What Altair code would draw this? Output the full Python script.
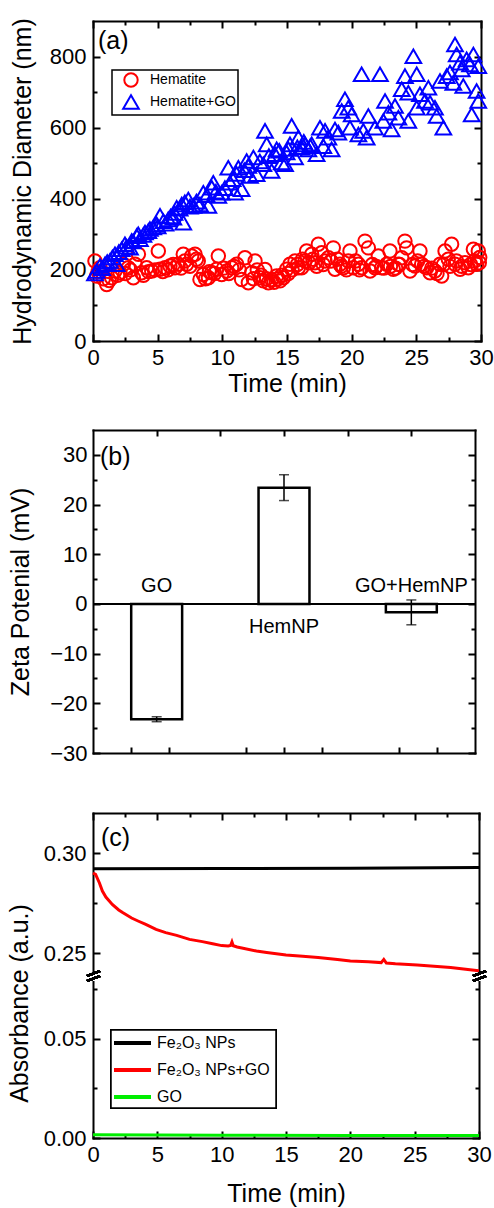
import altair as alt
import pandas as pd

FONT = "Liberation Sans"

# ---------------- Panel (a): hydrodynamic diameter ----------------
series_a = ["Hematite", "Hematite+GO"]
hem_t = [0.15, 0.28, 0.54, 1.06, 1.44, 1.70, 2.09, 2.35, 2.73, 3.12,
         3.25, 3.51, 3.76, 4.15, 4.54, 5.05, 5.18, 5.57, 5.95, 6.34,
         6.60, 6.98, 7.24, 7.63, 7.89, 8.14, 8.27, 8.53, 8.92, 9.18,
         9.56, 9.69, 9.95, 10.34, 10.72, 11.11, 11.49, 11.75, 12.01, 12.27,
         12.53, 12.91, 13.17, 13.30, 13.56, 13.81, 14.20, 14.46, 14.72, 14.97,
         15.23, 15.62, 15.88, 16.13, 16.39, 16.52, 16.91, 17.16, 17.42, 17.68,
         17.94, 18.20, 18.58, 18.71, 19.10, 19.36, 19.74, 19.87, 20.13, 20.52,
         20.77, 21.03, 21.29, 21.42, 21.80, 22.06, 22.32, 22.71, 22.96, 23.22,
         23.61, 23.87, 24.12, 24.25, 24.51, 24.90, 25.28, 25.41, 25.80, 26.06,
         26.44, 26.83, 26.96, 27.22, 27.47, 27.73, 27.99, 28.38, 28.76, 29.02,
         29.41, 29.66, 29.79, 29.87,
         0.4, 0.8, 1.25, 1.9, 2.5, 2.9, 3.9, 4.3, 4.8, 5.4,
         5.8, 6.2, 6.8, 7.1, 7.5, 8.0, 8.7, 9.0, 9.4, 10.1,
         10.5, 10.9, 11.3, 12.4, 12.7, 13.0, 13.4, 14.0, 14.3, 14.6,
         15.1, 15.4, 15.8, 16.2, 16.7, 17.0, 17.3, 17.8, 18.4, 18.9,
         19.2, 19.6, 20.3, 20.6, 21.6, 21.9, 22.5, 23.0, 23.4, 23.7,
         24.7, 25.1, 25.6, 26.2, 26.6, 27.1, 27.6, 28.1, 28.5, 29.2,
         29.5, 29.9]
hem_d = [225, 183, 206, 159, 178, 197, 192, 216, 206, 178,
         216, 244, 192, 206, 197, 253, 202, 206, 211, 206,
         216, 244, 216, 239, 244, 225, 173, 187, 178, 192,
         202, 239, 187, 197, 206, 216, 173, 234, 164, 192,
         225, 178, 169, 201, 164, 173, 183, 169, 178, 202,
         216, 225, 206, 206, 225, 253, 244, 220, 272, 248,
         225, 234, 262, 202, 216, 206, 225, 253, 206, 216,
         206, 281, 262, 197, 206, 239, 206, 216, 253, 202,
         216, 234, 281, 262, 197, 211, 253, 216, 206, 192,
         197, 216, 183, 253, 230, 272, 216, 202, 220, 206,
         258, 216, 253, 220,
         195, 175, 170, 185, 190, 200, 185, 195, 200, 195,
         200, 215, 205, 225, 210, 230, 175, 195, 190, 205,
         190, 210, 200, 175, 200, 185, 175, 165, 175, 185,
         190, 200, 215, 230, 220, 230, 210, 215, 225, 230,
         210, 200, 225, 200, 215, 210, 205, 210, 205, 215,
         215, 225, 210, 205, 190, 215, 210, 225, 210, 215,
         225, 235]
hgo_t = [0.28, 0.54, 0.93, 1.31, 1.70, 1.83, 2.22, 2.47, 2.86, 2.99,
         3.38, 3.63, 4.02, 4.28, 4.66, 4.92, 5.18, 5.44, 5.82, 6.21,
         6.47, 6.86, 6.98, 7.37, 7.76, 8.27, 8.53, 8.92, 9.18, 9.30,
         9.69, 9.95, 10.46, 10.59, 10.98, 11.24, 11.49, 11.88, 12.14, 12.40,
         12.65, 13.17, 13.30, 13.43, 13.81, 14.07, 14.20, 14.59, 14.85, 14.97,
         15.23, 15.36, 15.62, 15.88, 16.13, 16.39, 16.65, 16.91, 17.29, 17.55,
         17.81, 17.94, 18.20, 18.45, 18.71, 18.97, 19.23, 19.48, 19.74, 19.87,
         20.00, 20.52, 20.77, 20.90, 21.16, 21.29, 21.80, 22.19, 22.45, 22.58,
         22.84, 23.09, 23.35, 23.61, 23.87, 24.12, 24.38, 24.38, 24.77, 25.03,
         25.03, 25.28, 25.67, 25.93, 26.06, 26.44, 26.57, 26.83, 27.09, 27.35,
         27.60, 27.86, 27.99, 28.12, 28.38, 28.51, 28.63, 28.89, 29.15, 29.28,
         29.41, 29.66, 29.79, 29.79,
         0.15, 0.7, 1.1, 1.5, 2.0, 2.6, 3.1, 3.5, 3.9, 4.4,
         5.0, 5.6, 6.0, 6.3, 6.7, 7.1, 7.5, 8.0, 8.8, 9.5,
         10.2, 10.8, 11.1, 11.7, 12.0, 12.9, 13.6, 14.4, 15.1, 15.8,
         16.3, 16.8]
hgo_d = [197, 211, 216, 225, 244, 216, 258, 272, 262, 281,
         295, 286, 305, 309, 319, 328, 352, 337, 342, 347,
         375, 384, 333, 398, 380, 384, 417, 380, 431, 445,
         408, 417, 487, 445, 417, 487, 427, 506, 464, 516,
         469, 497, 591, 553, 478, 525, 539, 502, 497, 530,
         553, 605, 516, 572, 544, 553, 539, 553, 525, 600,
         548, 591, 572, 539, 595, 586, 647, 680, 656, 600,
         637, 581, 750, 591, 572, 633, 600, 750, 619, 675,
         642, 595, 661, 628, 708, 745, 619, 698, 801, 750,
         656, 694, 675, 712, 670, 656, 633, 731, 600, 745,
         755, 726, 834, 806, 783, 764, 717, 792, 778, 637,
         806, 703, 773, 675,
         190, 205, 222, 235, 250, 265, 280, 300, 298, 315,
         322, 330, 350, 360, 372, 390, 378, 392, 410, 420,
         430, 455, 470, 480, 492, 505, 520, 535, 540, 545,
         560, 548]
a_x_major = [0, 5, 10, 15, 20, 25, 30]
a_x_minor = [2.5, 7.5, 12.5, 17.5, 22.5, 27.5]
a_y_major = [0, 200, 400, 600, 800]
a_y_minor = [100, 300, 500, 700]

# ---------------- Panel (b): zeta potential ----------------
zeta_names = ["GO", "HemNP", "GO+HemNP"]
zeta_pos = [1, 2, 3]
zeta_val = [-23.2, 23.4, -1.7]
zeta_err = [0.5, 2.6, 2.5]
b_x_bottom = [0.8, 1.1, 1.7, 2.0, 2.3, 2.9, 3.2]
b_x_top = [1, 1.5, 2, 2.5, 3]
b_y_major = [-30, -20, -10, 0, 10, 20, 30]
b_y_minor = [-25, -15, -5, 5, 15, 25]

# ---------------- Panel (c): absorbance ----------------
abs_names = ["Fe\u2082O\u2083 NPs", "Fe\u2082O\u2083 NPs+GO", "GO"]
abs_colors = ["#000000", "#ff0000", "#00ee00"]
fe_t = [0, 10, 20, 30]
fe_a = [0.2921, 0.2922, 0.2924, 0.2927]
fego_t = [0.0, 0.2, 0.5, 0.73, 1.0, 1.5, 2.0, 2.3, 3.0, 3.5, 4.1, 4.9, 5.65, 6.5,
          7.5, 8.5, 9.3, 10.0, 10.5, 10.7, 10.8, 10.9, 11.2, 12.7, 13.5, 15.0,
          16.3, 17.5, 19.0, 20.0, 21.4, 22.4, 22.6, 22.8, 23.5, 25.2, 27.8, 29.8, 30.0]
fego_a = [0.2900, 0.2893, 0.2850, 0.2810, 0.2780, 0.2743, 0.2715, 0.2702, 0.2675, 0.2660,
          0.2643, 0.2618, 0.2602, 0.2588, 0.2568, 0.2557, 0.2546, 0.2537, 0.2535, 0.2538,
          0.2555, 0.2536, 0.2530, 0.2510, 0.2503, 0.2490, 0.2484, 0.2477, 0.2468, 0.2460,
          0.2456, 0.2452, 0.2468, 0.2450, 0.2446, 0.2440, 0.2427, 0.2413, 0.2411]
go_t = [0, 10, 20, 30]
go_a = [0.0016, 0.0014, 0.0013, 0.0012]
c_x_major = [0, 5, 10, 15, 20, 25, 30]
c_x_minor = [2.5, 7.5, 12.5, 17.5, 22.5, 27.5]
c_y_major = [0.0, 0.05, 0.25, 0.30]
c_y_minor = [0.025, 0.075, 0.275]
c_y_domain = [0.0, 0.08, 0.24, 0.32]

# ---------------- geometry ----------------
WA, HA = 388, 320
WB, HB = 382, 323
WC, HC = 386, 325
C_RANGE = [HC, 166, 160, 0]

LABEL_FS = 22
TITLE_FS = 25


def tick_axis(orient, values, size, labels=False, **kw):
    opts = dict(orient=orient, values=values, tickSize=size, offset=-size,
                ticks=True, labels=labels, tickWidth=2, tickColor="black",
                domain=False, grid=False, minExtent=0)
    if labels:
        opts.update(labelFontSize=LABEL_FS, labelFlush=False, labelOverlap=False,
                    titleFontSize=TITLE_FS)
    else:
        opts["title"] = None
    opts.update(kw)
    return alt.Axis(**opts)


def dom_axis(orient):
    return alt.Axis(orient=orient, domain=True, domainColor="black", domainWidth=2,
                    domainCap="square", ticks=False, labels=False, title=None, grid=False,
                    minExtent=0)


def inv(df, xf, yf, xs, ys, xa, ya):
    return alt.Chart(df).mark_point(opacity=0).encode(
        x=alt.X(f"{xf}:Q", scale=xs, axis=xa),
        y=alt.Y(f"{yf}:Q", scale=ys, axis=ya),
    )


def guides(df, xf, yf, xs, ys, xb_lab, xb_min, xt_maj, xt_min, yl_lab, yl_min, yr_maj, yr_min):
    return [
        inv(df, xf, yf, xs, ys, xb_lab, yl_lab),
        inv(df, xf, yf, xs, ys, xb_min, yl_min),
        inv(df, xf, yf, xs, ys, xt_maj, yr_maj),
        inv(df, xf, yf, xs, ys, xt_min, yr_min),
        inv(df, xf, yf, xs, ys, dom_axis("bottom"), dom_axis("left")),
        inv(df, xf, yf, xs, ys, dom_axis("top"), dom_axis("right")),
    ]


def panel_letter(txt, x, y):
    return alt.Chart(pd.DataFrame({"t": [txt]})).mark_text(
        font=FONT, fontSize=25, align="left", baseline="middle", color="black"
    ).encode(x=alt.value(x), y=alt.value(y), text="t:N")


# ---------------- build (a) ----------------
df_a = pd.concat([
    pd.DataFrame({"t": hem_t, "d": hem_d, "series": series_a[0]}),
    pd.DataFrame({"t": hgo_t, "d": hgo_d, "series": series_a[1]}),
], ignore_index=True)
xs_a = alt.Scale(domain=[0, 30], nice=False, zero=False)
ys_a = alt.Scale(domain=[0, 900], nice=False, zero=False)

leg_a = alt.Legend(orient="none", legendX=19, legendY=49, title=None,
                   strokeColor="black", fillColor="white", padding=2,
                   symbolSize=300, symbolStrokeWidth=2, symbolOffset=8,
                   labelOffset=10, labelFontSize=14, labelFont=FONT,
                   rowPadding=0, labelColor="black")

points_a = alt.Chart(df_a).mark_point(filled=False, strokeWidth=2, opacity=1).encode(
    x=alt.X("t:Q", scale=xs_a, axis=None),
    y=alt.Y("d:Q", scale=ys_a, axis=None),
    color=alt.Color("series:N", scale=alt.Scale(domain=series_a, range=["#ff0000", "#0000ff"]), legend=leg_a),
    shape=alt.Shape("series:N", scale=alt.Scale(domain=series_a, range=["circle", "triangle-up"]), legend=leg_a),
    size=alt.Size("series:N", scale=alt.Scale(domain=series_a, range=[180, 245]), legend=None),
)

g_a = guides(df_a, "t", "d", xs_a, ys_a,
             tick_axis("bottom", a_x_major, 7, labels=True, labelPadding=6,
                       title="Time (min)", titlePadding=3),
             tick_axis("bottom", a_x_minor, 4),
             tick_axis("top", a_x_major, 7),
             tick_axis("top", a_x_minor, 4),
             tick_axis("left", a_y_major, 7, labels=True, labelPadding=7,
                       title="Hydrodynamic Diameter (nm)", titlePadding=14),
             tick_axis("left", a_y_minor, 4),
             tick_axis("right", a_y_major, 7),
             tick_axis("right", a_y_minor, 4))

chart_a = alt.layer(*g_a, points_a, panel_letter("(a)", 5, 20)).resolve_axis(
    x="independent", y="independent").properties(width=WA, height=HA)

# ---------------- build (b) ----------------
df_b = pd.DataFrame({"name": zeta_names, "pos": zeta_pos, "val": zeta_val, "err": zeta_err})
xs_b = alt.Scale(domain=[0.5, 3.5], nice=False, zero=False)
ys_b = alt.Scale(domain=[-30, 35], nice=False, zero=False)

base_b = alt.Chart(df_b).transform_calculate(
    x0="datum.pos - 0.2", x1="datum.pos + 0.2",
    lo="datum.val - datum.err", hi="datum.val + datum.err")

zero_y = alt.YDatum(0, scale=ys_b, axis=None)

bars_b = base_b.mark_bar(fill="white", stroke="black", strokeWidth=2.5).encode(
    x=alt.X("x0:Q", scale=xs_b, axis=None), x2="x1:Q",
    y=alt.Y("val:Q", scale=ys_b, axis=None), y2=alt.datum(0))
err_b = base_b.mark_rule(color="black", strokeWidth=1.5).encode(
    x=alt.X("pos:Q", scale=xs_b, axis=None),
    y=alt.Y("lo:Q", scale=ys_b, axis=None), y2="hi:Q")
cap_lo = base_b.mark_tick(orient="horizontal", color="black", thickness=1.5, size=10).encode(
    x=alt.X("pos:Q", scale=xs_b, axis=None), y=alt.Y("lo:Q", scale=ys_b, axis=None))
cap_hi = base_b.mark_tick(orient="horizontal", color="black", thickness=1.5, size=10).encode(
    x=alt.X("pos:Q", scale=xs_b, axis=None), y=alt.Y("hi:Q", scale=ys_b, axis=None))
zero_b = alt.Chart(df_b).mark_rule(color="black", strokeWidth=2).encode(y=zero_y)
lab_neg = base_b.transform_filter("datum.val < 0").mark_text(
    font=FONT, fontSize=20, baseline="bottom", dy=-8, color="black").encode(
    x=alt.X("pos:Q", scale=xs_b, axis=None), y=zero_y, text="name:N")
lab_pos = base_b.transform_filter("datum.val >= 0").mark_text(
    font=FONT, fontSize=20, baseline="top", dy=13, color="black").encode(
    x=alt.X("pos:Q", scale=xs_b, axis=None), y=zero_y, text="name:N")

g_b = guides(df_b, "pos", "val", xs_b, ys_b,
             tick_axis("bottom", b_x_bottom, 6),
             None,
             tick_axis("top", b_x_top, 6),
             None,
             tick_axis("left", b_y_major, 7, labels=True, labelPadding=6,
                       title="Zeta Potenial (mV)", titlePadding=16),
             tick_axis("left", b_y_minor, 4),
             tick_axis("right", b_y_major, 7),
             tick_axis("right", b_y_minor, 4))

chart_b = alt.layer(*g_b, bars_b, zero_b, err_b, cap_lo, cap_hi, lab_neg, lab_pos,
                    panel_letter("(b)", 7, 27)).resolve_axis(
    x="independent", y="independent").properties(width=WB, height=HB)

# ---------------- build (c) ----------------
df_c = pd.concat([
    pd.DataFrame({"t": fe_t, "a": fe_a, "name": abs_names[0]}),
    pd.DataFrame({"t": fego_t, "a": fego_a, "name": abs_names[1]}),
    pd.DataFrame({"t": go_t, "a": go_a, "name": abs_names[2]}),
], ignore_index=True)
xs_c = alt.Scale(domain=[0, 30], nice=False, zero=False)
ys_c = alt.Scale(domain=c_y_domain, range=C_RANGE, nice=False, zero=False)

lines_c = alt.Chart(df_c).mark_line(strokeWidth=3).encode(
    x=alt.X("t:Q", scale=xs_c, axis=None),
    y=alt.Y("a:Q", scale=ys_c, axis=None),
    color=alt.Color("name:N", scale=alt.Scale(domain=abs_names, range=abs_colors), legend=None),
    detail="name:N",
)

g_c = guides(df_c, "t", "a", xs_c, ys_c,
             tick_axis("bottom", c_x_major, 7, labels=True, labelPadding=6,
                       title="Time (min)", titlePadding=16),
             tick_axis("bottom", c_x_minor, 4),
             tick_axis("top", c_x_major, 7),
             tick_axis("top", c_x_minor, 4),
             tick_axis("left", c_y_major, 7, labels=True, labelPadding=7, format=".2f",
                       title="Absorbance (a.u.)", titlePadding=11, titleY=190),
             tick_axis("left", c_y_minor, 4),
             tick_axis("right", c_y_major, 7),
             tick_axis("right", c_y_minor, 4))

# axis break decoration
brk = []
for bx in (0, WC):
    brk.append(alt.Chart(df_c).mark_rect(color="white").encode(
        x=alt.value(bx - 3), x2=alt.value(bx + 3), y=alt.value(159), y2=alt.value(168)))
    brk.append(alt.Chart(df_c).mark_rule(color="black", strokeWidth=2).encode(
        x=alt.value(bx - 6), x2=alt.value(bx + 7), y=alt.value(163), y2=alt.value(158)))
    brk.append(alt.Chart(df_c).mark_rule(color="black", strokeWidth=2).encode(
        x=alt.value(bx - 6), x2=alt.value(bx + 7), y=alt.value(168), y2=alt.value(163)))

# manual legend for (c)
leg_layers = [alt.Chart(df_c).mark_rect(fill="white", stroke="black", strokeWidth=1.5).encode(
    x=alt.value(18), x2=alt.value(183), y=alt.value(217), y2=alt.value(295))]
for i, (nm, col) in enumerate(zip(abs_names, abs_colors)):
    yy = 230 + 27 * i
    leg_layers.append(alt.Chart(df_c).mark_rule(color=col, strokeWidth=4).encode(
        x=alt.value(21), x2=alt.value(58), y=alt.value(yy), y2=alt.value(yy)))
    leg_layers.append(alt.Chart(pd.DataFrame({"n": [nm]})).mark_text(
        font=FONT, fontSize=16, align="left", baseline="middle", color="black").encode(
        x=alt.value(64), y=alt.value(yy), text="n:N"))

chart_c = alt.layer(*g_c, lines_c, *brk, *leg_layers, panel_letter("(c)", 8, 25)).resolve_axis(
    x="independent", y="independent").properties(width=WC, height=HC)

inner = alt.vconcat(chart_b, chart_c, spacing=60, bounds="flush").resolve_scale(
    color="independent", shape="independent", size="independent")
chart = alt.vconcat(chart_a, inner, spacing=89, bounds="flush").resolve_scale(
    color="independent", shape="independent", size="independent").properties(
    padding={"left": 6, "top": 17, "right": 0, "bottom": 0},
    background="white",
).configure_view(stroke="transparent").configure_axis(
    labelFont=FONT, titleFont=FONT, labelColor="black", titleColor="black",
    titleFontWeight="normal", minExtent=0,
).configure_legend(strokeWidth=1.5)

chart.save("out.html", embed_options={"renderer": "svg", "actions": False})
